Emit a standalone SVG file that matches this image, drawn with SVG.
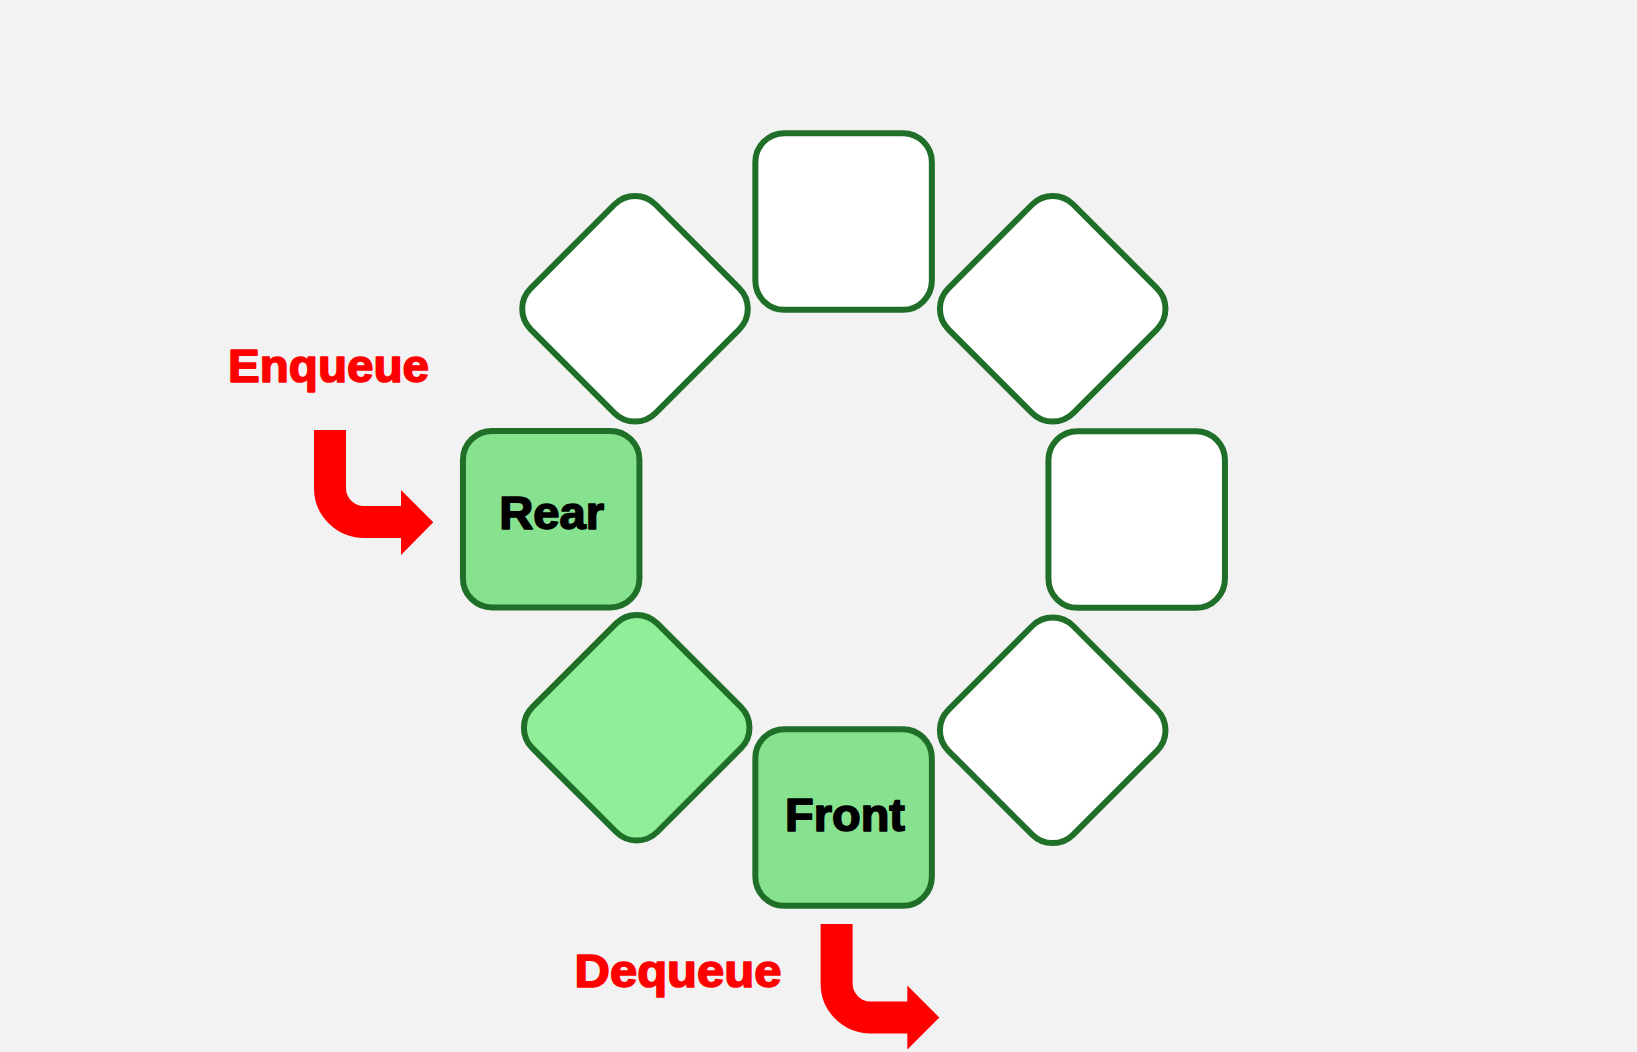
<svg xmlns="http://www.w3.org/2000/svg" width="1637" height="1052" viewBox="0 0 1637 1052">
<style>
.node{stroke:#1f6f28;stroke-width:6}
.empty{fill:#ffffff}
.active{fill:#87e28f}
.used{fill:#90ee98}
.lbl{font-family:"Liberation Sans",Arial,sans-serif;font-weight:bold;font-size:46px;fill:#000;stroke:#000;stroke-width:1.6;stroke-linejoin:round;paint-order:stroke;text-anchor:middle}
.op{font-family:"Liberation Sans",Arial,sans-serif;font-weight:bold;font-size:46px;fill:#ff0000;stroke:#ff0000;stroke-width:1.6;stroke-linejoin:round;paint-order:stroke}
.shaft{fill:none;stroke:#ff0000;stroke-width:32}
.head{fill:#ff0000}
</style>
<defs>
<rect id="cell" x="-88.25" y="-88.25" width="176.5" height="176.5" rx="29" ry="29"/>
</defs>
<rect width="1637" height="1052" fill="#f2f2f2"/>
<g id="node-top"><use href="#cell" class="node empty" transform="translate(843.6,221.5)"/></g>
<g id="node-top-right"><use href="#cell" class="node empty" transform="translate(1052.7,308.8) rotate(45)"/></g>
<g id="node-right"><use href="#cell" class="node empty" transform="translate(1136.7,519.5)"/></g>
<g id="node-bottom-right"><use href="#cell" class="node empty" transform="translate(1052.7,730.3) rotate(45)"/></g>
<g id="node-front"><use href="#cell" class="node active" transform="translate(843.6,817.5)"/><text class="lbl" x="845" y="831" textLength="120" lengthAdjust="spacingAndGlyphs">Front</text></g>
<g id="node-bottom-left"><use href="#cell" class="node used" transform="translate(636.7,727.7) rotate(45)"/></g>
<g id="node-rear"><use href="#cell" class="node active" transform="translate(551.2,519.2)"/><text class="lbl" x="551.7" y="528.5" textLength="105" lengthAdjust="spacingAndGlyphs">Rear</text></g>
<g id="node-top-left"><use href="#cell" class="node empty" transform="translate(635,308.8) rotate(45)"/></g>
<g id="connectors">
<g id="enqueue">
<text class="op" x="228" y="381.5" textLength="201" lengthAdjust="spacingAndGlyphs">Enqueue</text>
<path class="shaft" d="M330,430 L330,488 A34,34 0 0 0 364,522 L402,522"/>
<polygon class="head" points="401,490 433.3,522.3 401,555"/>
</g>
<g id="dequeue">
<text class="op" x="574.5" y="986.5" textLength="207" lengthAdjust="spacingAndGlyphs">Dequeue</text>
<path class="shaft" d="M836.6,924 L836.6,983.5 A34,34 0 0 0 870.6,1017.5 L908,1017.5"/>
<polygon class="head" points="907.3,985.5 939.3,1017.5 907.3,1049.5"/>
</g>
</g>
</svg>
